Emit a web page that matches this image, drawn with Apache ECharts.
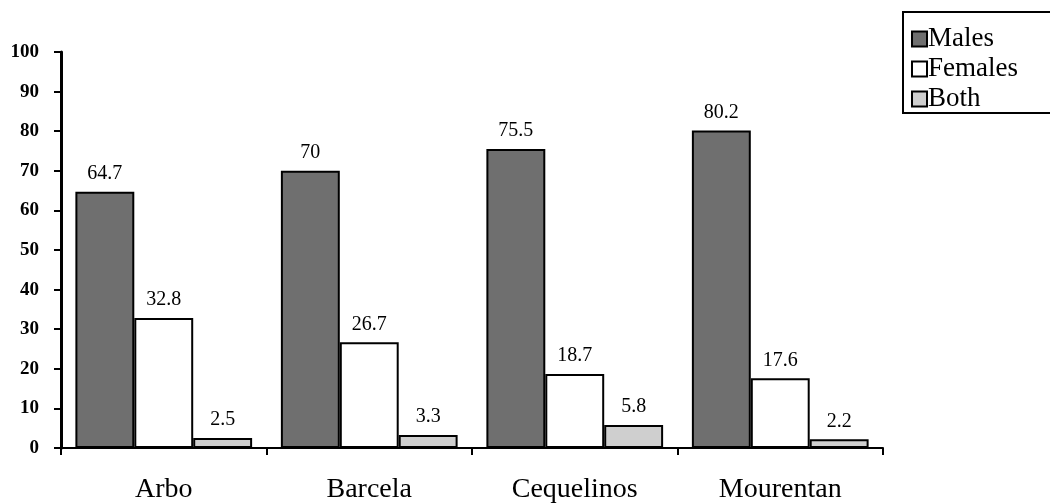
<!DOCTYPE html>
<html><head><meta charset="utf-8">
<script src="https://cdn.jsdelivr.net/npm/echarts@6/dist/echarts.min.js"></script>
<style>html,body{margin:0;padding:0;background:#fff}#c{width:1050px;height:504px}</style>
</head><body><div id="c"></div>
<script>
const categories = ['Arbo', 'Barcela', 'Cequelinos', 'Mourentan'];
const males = [64.7, 70, 75.5, 80.2];
const females = [32.8, 26.7, 18.7, 17.6];
const both = [2.5, 3.3, 5.8, 2.2];
const seriesNames = ['Males', 'Females', 'Both'];

const font = '"Liberation Serif", "Times New Roman", serif';
const chart = echarts.init(document.getElementById('c'));
function mk(name, data, color) {
  return {
    name: name, type: 'bar', data: data, barGap: '0%', barCategoryGap: '14%',
    itemStyle: { color: color, borderColor: '#000', borderWidth: 2 },
    label: { show: true, position: 'top', distance: 8, color: '#000', fontFamily: font, fontSize: 20 }
  };
}
chart.setOption({
  animation: false,
  grid: { left: 61, right: 167, top: 52, bottom: 54, containLabel: false },
  legend: {
    orient: 'vertical', left: 903, top: 12, padding: [13, 60, 0, 8],
    borderColor: '#000', borderWidth: 2, itemGap: 2,
    itemWidth: 15, itemHeight: 15, icon: 'rect',
    textStyle: { fontFamily: font, fontSize: 27, lineHeight: 28, color: '#000', padding: [0, 0, 0, -4] },
    data: seriesNames
  },
  xAxis: {
    type: 'category', data: categories,
    axisLine: { lineStyle: { color: '#000', width: 2 } },
    axisTick: { show: true, length: 7, lineStyle: { color: '#000', width: 2 } },
    axisLabel: { fontFamily: font, fontSize: 28, color: '#000', margin: 28 }
  },
  yAxis: {
    type: 'value', min: 0, max: 100, interval: 10,
    splitLine: { show: false },
    axisLine: { show: true, lineStyle: { color: '#000', width: 3 } },
    axisTick: { show: true, length: 7, lineStyle: { color: '#000', width: 2 } },
    axisLabel: { fontFamily: font, fontSize: 19, fontWeight: 'bold', color: '#000', margin: 22 }
  },
  series: [
    mk('Males', males, '#6f6f6f'),
    mk('Females', females, '#ffffff'),
    mk('Both', both, '#cfcfcf')
  ]
});
</script></body></html>
